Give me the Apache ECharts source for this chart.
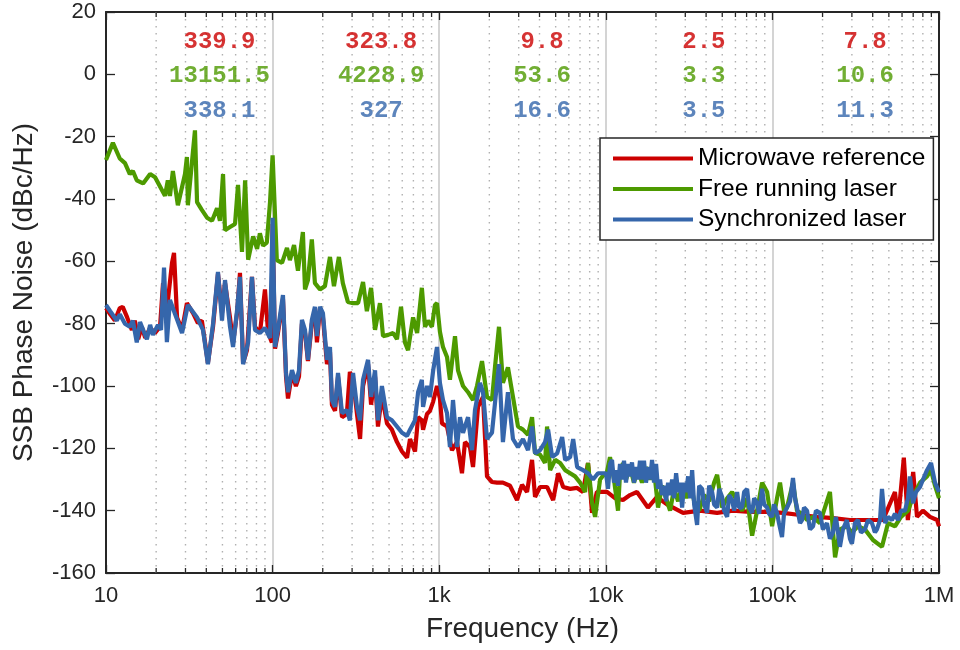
<!DOCTYPE html>
<html>
<head>
<meta charset="utf-8">
<script src="https://cdn.jsdelivr.net/npm/echarts@6/dist/echarts.min.js"></script>
<style>html,body{margin:0;padding:0;background:#fff}#c{width:960px;height:650px}</style>
</head>
<body>
<div id="c"></div>
<script>
// ---- data ----
const seriesNames = ['Microwave reference', 'Free running laser', 'Synchronized laser'];
const xTickValues = [10, 100, 1000, 10000, 100000, 1000000];
const xTickLabels = ['10', '100', '1k', '10k', '100k', '1M'];
const minorFreqs = [];
[10, 100, 1000, 10000, 100000].forEach(d => { for (let m = 2; m <= 9; m++) minorFreqs.push(m * d); });

const microwave = [
[10,-75],[10.6,-77],[11.3,-79],[12.1,-75],[12.6,-74.6],[13.4,-78],[14.3,-82],[14.9,-79],[15.6,-85],[16.4,-81],[17.2,-84.6],[18.4,-81.4],[19.7,-83],[21.1,-81],[22.0,-67],[23.2,-75.6],[24.9,-60.5],[25.6,-57.3],[26.7,-78],[28.6,-82],[30.6,-73.4],[33.3,-76.6],[35.6,-79.8],[37.6,-79],[39.3,-86],[40.9,-92.6],[43.9,-81],[47,-64],[49.7,-76.6],[51.8,-67],[55.5,-78],[57.9,-86],[61.2,-76.6],[63.7,-63.7],[66.5,-92.6],[70.2,-88.5],[75.2,-65],[78.4,-81],[83.9,-83],[90,-69],[94,-83],[99,-86],[100,-48],
[103.4,-88],[107.7,-83],[115.4,-72],[120.4,-97],[123.7,-104],[130.7,-96],[138,-100],[144,-97],[150,-80],[156.5,-83],[163,-92],[172,-80],[179.5,-76],[184.6,-86],[192.5,-75],[200.5,-78],[212,-93],[221,-89],[227,-106],[237,-108],[247,-97],[261,-110],[279,-109],[291,-95.5],[304,-98],[321,-109],[335,-117],[349,-100],[374,-93],[390,-106],[412,-97],[429,-113],[453,-103],[486,-112],[520,-114],[558,-118],[598,-121],[641,-123],[668,-117],[716,-121],[747,-110],[787,-111],[800,-114],[845,-109],[880,-108],[920,-105],[970,-100],[1010,-104],
[1039,-112],[1114,-113],[1193,-120.6],[1279,-118],[1370,-128],[1428,-118],[1530,-119.6],[1596,-126],[1710,-106.7],[1832,-103.5],[1936,-129],[2074,-130.8],[2223,-131],[2413,-131],[2660,-132],[2932,-136.6],[3140,-131.7],[3367,-134],[3608,-123.7],[3761,-135.6],[4030,-132.4],[4440,-132.4],[4830,-136.6],[5180,-128],[5550,-132.4],[6110,-133],[6730,-132.7],[7300,-134],[7820,-124.7],[8270,-140.7],[8840,-134],[9620,-134],
[10170,-134],[11350,-136],[12680,-136.6],[13970,-135],[15390,-134],[17900,-139],[20300,-135.6],[23290,-138],[29100,-140.7],[36780,-140],[46530,-140.7],[58000,-140],[73300,-140.4],[92970,-140.4],[115800,-140.7],[146300,-141.4],[185300,-142],[231000,-142.4],[292000,-143],[370000,-143],[461000,-143],[544000,-134],[568000,-143],[615000,-123],[650000,-143],[700000,-127.6],[738000,-142],[800000,-140],[883000,-142],[974000,-143],[1000000,-145]
];

const freeRunning = [
[10,-27.5],[11.0,-22],[12.1,-27],[13.0,-28.5],[13.9,-32],[14.5,-31],[15.3,-34],[16.7,-35],[18.4,-32],[19.7,-33],[21.1,-36],[22.6,-39],[23.5,-34],[24.2,-39],[25.2,-31],[27.0,-42],[29.8,-32],[30.6,-26.5],[31.0,-42],[34.2,-18],[35.2,-41],[37.6,-43.5],[40.4,-46],[43.3,-47],[46.4,-43],[48.3,-47],[50.4,-32],[51.8,-50],[55.5,-49],[59.5,-48],[62.0,-35.5],[65.5,-57],[68.4,-34],[71.3,-59.5],[76.4,-52],[80.7,-56],[83.9,-51],[87.6,-55],[92.3,-54],[96.5,-41],[100,-26],
[106,-59.6],[113.9,-60.5],[122,-55.7],[127,-59.6],[134.5,-54.8],[142,-63],[152,-50.6],[156.5,-69],[163,-66],[172,-53],[179.5,-67],[192.5,-69],[206,-68],[221,-58.6],[233.5,-68],[250,-58.6],[264,-67],[283,-73],[304,-73.4],[326,-73.4],[349,-66.6],[368,-76],[390,-68.5],[412,-82],[441,-73.4],[460,-84],[494,-83.6],[529,-83],[558,-85],[590,-74.6],[623,-86],[650,-88.5],[697,-78],[737,-83],[787,-68.5],[822,-81],[857,-79],[904,-81],[943,-74],[970,-73.4],[1010,-82.6],
[1054,-87.5],[1114,-90.7],[1160,-98],[1244,-84],[1297,-95],[1390,-100],[1490,-102],[1596,-104.5],[1686,-100],[1807,-92],[1936,-103.5],[2074,-104.5],[2162,-94],[2285,-81],[2413,-99],[2586,-94],[2772,-103.5],[2971,-113],[3184,-114],[3412,-115.7],[3608,-110],[3761,-121.5],[4030,-122],[4319,-124.7],[4440,-113],[4634,-127],[4965,-123.7],[5320,-124.7],[5700,-127],[6110,-128],[6540,-129],[7010,-131],[7510,-134],[7820,-124.7],[8270,-137.5],[8620,-142],[9240,-130],[9890,-128],
[10030,-129],[10600,-122.8],[11200,-130],[11840,-140],[12170,-128],[12680,-124.7],[13220,-130],[13970,-126],[14760,-131],[15600,-127],[16490,-131],[17430,-126],[18430,-130],[19480,-127],[20590,-139],[21760,-132],[23000,-136],[24310,-140],[25700,-133],[27160,-137],[28710,-132],[30350,-136],[32080,-130],[33900,-137],[36330,-140],[38940,-135],[41720,-137],[44700,-131],[46590,-128.5],[49920,-139],[53490,-136],[57310,-134],[61410,-137],[65800,-140],[70510,-136],[75550,-148],[80950,-140],[86740,-131],[92940,-134],[99590,-145],
[106600,-136],[111100,-131],[117400,-140],[122350,-139],[132900,-131],[140500,-140],[150600,-141],[161300,-143],[175300,-142],[192900,-144],[201000,-141],[221500,-134],[237800,-155],[254200,-146],[280000,-145],[300200,-147],[326200,-145],[359300,-146],[401500,-149.4],[454800,-151.6],[494200,-144],[544200,-145],[591400,-142],[651400,-140],[698100,-135.6],[769200,-131],[847500,-129],[895700,-127],[946400,-132],[1000000,-136]
];

const synchronized = [
[10,-74],[10.6,-76],[11.6,-79],[12.1,-77],[13.0,-80],[13.9,-81],[14.5,-79],[15.3,-86],[16.0,-79.5],[17.6,-85],[18.4,-80.4],[19.1,-83.6],[20.5,-80.4],[21.4,-82],[22.3,-62],[23.2,-85.9],[24.2,-72.4],[26.0,-77],[28.6,-83],[31.0,-74],[35.2,-78],[38.2,-82],[40.9,-93],[43.9,-80],[47.0,-63.4],[49.7,-79],[51.8,-66],[55.5,-81],[57.9,-87.5],[61.2,-75.6],[63.7,-65],[66.5,-93],[71.3,-86],[75.2,-65],[78.4,-82],[83.9,-83],[90,-81.4],[96.5,-84.6],[100,-46],
[103.4,-87.5],[107.7,-82],[115.4,-70.8],[120.4,-95.8],[123.7,-102],[130.7,-94.9],[138,-99],[144,-95],[150,-78.8],[156.5,-82],[163,-91.6],[172,-78.8],[179.5,-74.6],[184.6,-84],[192.5,-74.6],[200.5,-76.6],[212,-91.6],[221,-87.5],[227,-104.5],[237,-106.7],[247,-95.8],[261,-108.7],[279,-107.7],[291,-111],[304,-95.8],[321,-106.7],[335,-111],[349,-98],[374,-91.6],[390,-103.5],[412,-95],[429,-111],[453,-100],[486,-110],[520,-111],[558,-113],[598,-115],[641,-116],[668,-114],[716,-111],[747,-102],[787,-98],[800,-106.7],[845,-100],[880,-103.5],[920,-95],[970,-87.5],[1010,-99],
[1054,-104.5],[1114,-108.7],[1160,-119.6],[1210,-104.5],[1279,-119.6],[1333,-110],[1390,-115],[1490,-110],[1574,-120.6],[1640,-107.7],[1757,-99],[1832,-102],[1936,-117],[2074,-115],[2162,-105.5],[2285,-93],[2413,-118],[2586,-102],[2772,-117],[2971,-119.6],[3184,-117],[3412,-120.6],[3608,-113],[3761,-121.6],[4030,-120.6],[4319,-118],[4504,-114],[4764,-122.8],[5105,-121.6],[5470,-116.4],[5700,-123.7],[6110,-122.8],[6370,-117],[6730,-126],[7300,-127],[7820,-128],[8380,-130],[8980,-128],[9620,-128],
[10030,-128],[10310,-133],[10600,-125],[10895,-123.7],[11200,-131],[11510,-127],[11840,-132],[12170,-125],[12510,-130],[12860,-124],[13220,-131],[13590,-125],[13970,-129],[14360,-124.5],[14760,-131],[15180,-126],[15600,-130],[16040,-124],[16490,-130],[16950,-124],[17430,-131],[17920,-126],[18430,-130],[18950,-123.7],[19480,-131],[20030,-125],[20590,-133],[21170,-130],[21760,-135],[22370,-132],[23000,-137],[23650,-131],[24310,-135],[25000,-130],[25700,-136],[26420,-128],[27160,-134],[27930,-131],[28710,-139],[29520,-131],[30350,-134],[31200,-129],[32080,-136],[32980,-127],[33900,-138],[35330,-144.6],[36330,-132],[37870,-133],[38940,-138],[40580,-140.7],[41720,-132],[43480,-134],[44700,-138],[46590,-139],[47900,-133],[49920,-135.6],[51320,-140],[53490,-142],[54990,-135],[57310,-136.6],[58920,-140],[61410,-134],[63130,-139],[65800,-139],[67650,-134],[70510,-133],[72490,-139],[75550,-140.7],[77670,-136],[80950,-137.6],[83220,-141],[86740,-133],[89170,-138],[92940,-139],[95550,-141],[99590,-142],
[102200,-138],[106600,-140.7],[109500,-144],[114200,-148.5],[117400,-141],[122350,-139],[127600,-137],[132900,-129.5],[136700,-136],[140500,-139],[146500,-144],[150600,-143],[154800,-139],[161300,-140],[168200,-146],[175300,-145],[182700,-140],[192900,-140.7],[201000,-146],[212500,-144],[221500,-149],[230900,-147],[240700,-142],[254200,-151.6],[265000,-146],[280000,-143],[292000,-149],[300200,-150.6],[312900,-144],[326200,-143],[340000,-147],[359300,-146],[374500,-143],[396000,-144],[412700,-147],[424300,-146],[442400,-143],[454800,-133],[474000,-144],[494200,-142],[522000,-143],[544200,-141],[567300,-143],[591400,-140],[624900,-140],[651400,-136],[669700,-129],[698100,-137.6],[727800,-134],[769200,-132.4],[801900,-130],[847500,-127],[895700,-124.7],[946400,-131],[1000000,-134]
];

// integrated-noise annotations (one per decade)
const annotX = [48, 448, 4140, 38800, 360000];
const annotRed = ['339.9', '323.8', '9.8', '2.5', '7.8'];
const annotGreen = ['13151.5', '4228.9', '53.6', '3.3', '10.6'];
const annotBlue = ['338.1', '327', '16.6', '3.5', '11.3'];
const annotY = [10.4, -0.6, -11.6];

// ---- styles ----
const colors = ['#cc0000', '#4d9a00', '#3566ab'];
const axisColor = '#262626';
const fontSans = "'Liberation Sans', Arial, sans-serif";

function annotSeries(texts, y, color) {
  return {
    type: 'scatter', xAxisIndex: 0, yAxisIndex: 0, symbolSize: 0, z: 6, silent: true,
    data: texts.map((t, i) => ({ value: [annotX[i], y], name: t })),
    label: { show: true, position: 'inside', formatter: '{b}', color: color,
      fontFamily: "'Liberation Mono', 'Courier New', monospace", fontWeight: 'bold', fontSize: 24 }
  };
}

const labelMap = {};
xTickValues.forEach((v, i) => labelMap[v] = xTickLabels[i]);

const chart = echarts.init(document.getElementById('c'), null, { renderer: 'canvas' });
const baseX = { type: 'log', logBase: 10, min: 10, max: 1000000 };
chart.setOption({
  animation: false,
  backgroundColor: '#fff',
  grid: { left: 106, right: 21, top: 12, bottom: 77 },
  legend: {
    data: seriesNames, orient: 'vertical', left: 600, top: 138,
    padding: [8, 8, 8, 13], itemGap: 5.5, itemWidth: 80, itemHeight: 4, icon: 'rect',
    borderColor: '#262626', borderWidth: 1.5, backgroundColor: '#fff',
    textStyle: { fontSize: 24.5, fontFamily: fontSans, color: '#000', lineHeight: 25 }
  },
  xAxis: [
    Object.assign({}, baseX, {
      position: 'bottom',
      axisLine: { onZero: false, lineStyle: { color: axisColor, width: 2 } },
      axisTick: { inside: true, length: 8, lineStyle: { color: axisColor, width: 1.3 } },
      axisLabel: { formatter: v => labelMap[v] !== undefined ? labelMap[v] : '', fontSize: 22, fontFamily: fontSans, color: axisColor, margin: 12 },
      splitLine: { show: true, lineStyle: { color: '#d4d4d4', width: 2 } },
      name: 'Frequency (Hz)', nameLocation: 'middle', nameGap: 42,
      nameTextStyle: { fontSize: 28, fontFamily: fontSans, color: axisColor }
    }),
    Object.assign({}, baseX, {
      position: 'top',
      axisLine: { onZero: false, lineStyle: { color: axisColor, width: 2 } },
      axisTick: { inside: true, length: 8, lineStyle: { color: axisColor, width: 1.3 } },
      axisLabel: { show: false }, splitLine: { show: false }
    })
  ],
  yAxis: [
    {
      type: 'value', min: -160, max: 20, interval: 20, position: 'left',
      axisLine: { show: true, onZero: false, lineStyle: { color: axisColor, width: 2 } },
      axisTick: { show: true, inside: true, length: 9, lineStyle: { color: axisColor, width: 1.3 } },
      axisLabel: { fontSize: 22, fontFamily: fontSans, color: axisColor, margin: 10 },
      splitLine: { show: false },
      name: 'SSB Phase Noise (dBc/Hz)', nameLocation: 'middle', nameGap: 68,
      nameTextStyle: { fontSize: 28, fontFamily: fontSans, color: axisColor }
    },
    {
      type: 'value', min: -160, max: 20, interval: 20, position: 'right',
      axisLine: { show: true, onZero: false, lineStyle: { color: axisColor, width: 2 } },
      axisTick: { show: true, inside: true, length: 9, lineStyle: { color: axisColor, width: 1.3 } },
      axisLabel: { show: false }, splitLine: { show: false }
    }
  ],
  series: [
    {
      type: 'custom', xAxisIndex: 0, yAxisIndex: 0, z: 1, silent: true, clip: false,
      data: minorFreqs.map(f => [f, 0]),
      renderItem: function (params, api) {
        const f = api.value(0);
        const top = api.coord([f, 20]);
        const bot = api.coord([f, -160]);
        return { type: 'group', children: [
          { type: 'line', shape: { x1: top[0], y1: top[1], x2: bot[0], y2: bot[1] },
            style: { stroke: '#b0b0b0', lineWidth: 1.4, lineDash: [1.5, 5.5] } },
          { type: 'line', shape: { x1: bot[0], y1: bot[1], x2: bot[0], y2: bot[1] - 5 },
            style: { stroke: axisColor, lineWidth: 1.3 } },
          { type: 'line', shape: { x1: top[0], y1: top[1], x2: top[0], y2: top[1] + 5 },
            style: { stroke: axisColor, lineWidth: 1.3 } }
        ] };
      }
    },
    { name: seriesNames[0], type: 'line', data: microwave, symbol: 'none', z: 3,
      lineStyle: { color: colors[0], width: 4.2 }, itemStyle: { color: colors[0] } },
    { name: seriesNames[1], type: 'line', data: freeRunning, symbol: 'none', z: 3,
      lineStyle: { color: colors[1], width: 4.2 }, itemStyle: { color: colors[1] } },
    { name: seriesNames[2], type: 'line', data: synchronized, symbol: 'none', z: 3,
      lineStyle: { color: colors[2], width: 4.2 }, itemStyle: { color: colors[2] } },
    annotSeries(annotRed, annotY[0], colors[0]),
    annotSeries(annotGreen, annotY[1], colors[1]),
    annotSeries(annotBlue, annotY[2], colors[2])
  ]
});
</script>
</body>
</html>
